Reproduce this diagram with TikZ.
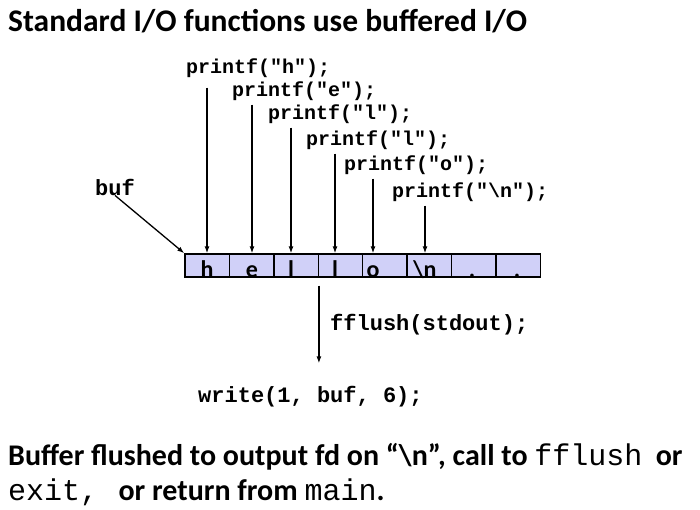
\documentclass[tikz,border=0pt]{standalone}
\usepackage{fontspec}
\setmainfont{Carlito}
\setmonofont{Liberation Mono}
\usetikzlibrary{arrows.meta}
\definecolor{bufblue}{RGB}{208,208,248}
\tikzset{
	cell/.style={draw, line width=1.4pt, fill=bufblue, minimum width=44.4pt, minimum height=23pt, inner sep=0pt},
	ch/.style={font=\fontsize{24}{24}\selectfont\bfseries, anchor=base, inner sep=0pt},
	code/.style={font=\fontsize{20}{20}\selectfont\ttfamily\bfseries, anchor=west, inner sep=0pt},
	bigcode/.style={font=\fontsize{22}{22}\selectfont\ttfamily\bfseries, anchor=west, inner sep=0pt},
	note/.style={font=\fontsize{30}{30}\selectfont\bfseries, anchor=base west, inner sep=0pt},
	arr/.style={-{Latex[length=7pt,width=5pt]}, line width=1.3pt},
}

\begin{document}
\begin{tikzpicture}[x=1pt,y=-1pt]
	\useasboundingbox (0,0) rectangle (700,510);

	\node[note, font=\fontsize{31.5}{31.5}\selectfont\bfseries] (title) at (8,32) {Standard I/O functions use buffered I/O};

	\node[cell] (c1) at (207.2,265.5) {};
	\node[cell] (c2) at (251.6,265.5) {};
	\node[cell] (c3) at (296.0,265.5) {};
	\node[cell] (c4) at (340.4,265.5) {};
	\node[cell] (c5) at (384.8,265.5) {};
	\node[cell] (c6) at (429.2,265.5) {};
	\node[cell] (c7) at (473.6,265.5) {};
	\node[cell] (c8) at (518.0,265.5) {};

	\node[ch] (t1) at (207,277) {h};
	\node[ch] (t2) at (252,277) {e};
	\node[ch] (t3) at (291,277) {l};
	\node[ch] (t4) at (335,277) {l};
	\node[ch] (t5) at (373,277) {o};
	\node[ch] (t6) at (425,277) {\textbackslash n};
	\node[ch] (t7) at (472,277) {.};
	\node[ch] (t8) at (517,277) {.};

	\node[code] (pf1) at (186,68) {printf("h");};
	\node[code] (pf2) at (232,91) {printf("e");};
	\node[code] (pf3) at (268,114) {printf("l");};
	\node[code] (pf4) at (306,140) {printf("l");};
	\node[code] (pf5) at (344,165) {printf("o");};
	\node[code] (pf6) at (392,192) {printf("\textbackslash n");};

	\draw[arr] ([yshift=-10pt]t1 |- pf1.south) -- (t1 |- c1.north);
	\draw[arr] ([yshift=-4pt]t2 |- pf2.south) -- (t2 |- c1.north);
	\draw[arr] ([yshift=-4pt]t3 |- pf3.south) -- (t3 |- c1.north);
	\draw[arr] ([yshift=-4pt]t4 |- pf4.south) -- (t4 |- c1.north);
	\draw[arr] ([yshift=-4pt]t5 |- pf5.south) -- (t5 |- c1.north);
	\draw[arr] ([yshift=-4pt]t6 |- pf6.south) -- (t6 |- c1.north);

	\node[bigcode] (buf) at (95,187) {buf};
	\draw[arr] (buf.south) -- (c1.north west);

	\node[bigcode] (fl) at (330,325) {fflush(stdout);};
	\node[bigcode] (wr) at (198,397) {write(1, buf, 6);};
	\draw[arr, shorten <=8pt, shorten >=23pt] (c3.south east) -- (c3.south east |- wr.north);

	\node[note] (note1) at (8,465) {Buffer flushed to output fd on “\textbackslash n”, call to {\mdseries\ttfamily fflush}\ \ or};
	\node[note] (note2) at (8,500) {{\mdseries\ttfamily exit,}\ \ \ or return from {\mdseries\ttfamily main}.};
\end{tikzpicture}
\end{document}
